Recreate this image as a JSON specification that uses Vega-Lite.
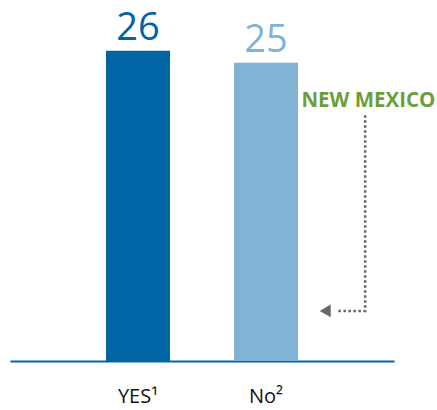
{
  "$schema": "https://vega.github.io/schema/vega-lite/v6.json",
  "width": 384,
  "height": 358,
  "padding": {"left": 10, "top": 3, "right": 43, "bottom": 49},
  "autosize": {"type": "none"},
  "background": "white",
  "config": {"view": {"stroke": null}, "font": "Open Sans"},
  "datasets": {
    "bars": [
      {"category": "YES¹", "value": 26, "base": 0, "x0": 3, "x1": 5, "mid": 4},
      {"category": "No²", "value": 25, "base": 0, "x0": 7, "x1": 9, "mid": 8}
    ],
    "arrow": [
      {"order": 1, "x": 11.1, "y": 20.6},
      {"order": 2, "x": 11.1, "y": 4.2},
      {"order": 3, "x": 10.2, "y": 4.2}
    ],
    "head": [{"x": 9.85, "y": 4.2}],
    "note": [{"x": 11.2, "y": 21.3, "label": "NEW MEXICO"}]
  },
  "encoding": {
    "x": {"type": "quantitative", "scale": {"domain": [0, 12], "nice": false}, "axis": {"labels": false, "ticks": false, "grid": false, "title": null, "domainColor": "#0065A4", "domainWidth": 2, "domainOpacity": 1}},
    "y": {"type": "quantitative", "scale": {"domain": [0, 30], "nice": false}, "axis": null}
  },
  "layer": [
    {
      "data": {"name": "bars"},
      "mark": {"type": "rect"},
      "encoding": {
        "x": {"field": "x0", "type": "quantitative"},
        "x2": {"field": "x1"},
        "y": {"field": "value", "type": "quantitative"},
        "y2": {"field": "base"},
        "color": {"field": "category", "type": "nominal", "scale": {"domain": ["YES¹", "No²"], "range": ["#0065A4", "#80B3D4"]}, "legend": null}
      }
    },
    {
      "data": {"name": "bars"},
      "mark": {"type": "text", "baseline": "alphabetic", "align": "center", "dy": -11, "fontSize": 38},
      "encoding": {
        "x": {"field": "mid", "type": "quantitative"},
        "y": {"field": "value", "type": "quantitative"},
        "text": {"field": "value", "type": "quantitative"},
        "color": {"field": "category", "type": "nominal", "legend": null}
      }
    },
    {
      "data": {"name": "bars"},
      "mark": {"type": "text", "baseline": "alphabetic", "align": "center", "dy": 42, "fontSize": 20, "color": "#111111"},
      "encoding": {
        "x": {"field": "mid", "type": "quantitative"},
        "y": {"field": "base", "type": "quantitative"},
        "text": {"field": "category", "type": "nominal"}
      }
    },
    {
      "data": {"name": "arrow"},
      "mark": {"type": "line", "color": "#666666", "strokeWidth": 2.5, "strokeDash": [2.5, 2.5]},
      "encoding": {
        "x": {"field": "x", "type": "quantitative"},
        "y": {"field": "y", "type": "quantitative"},
        "order": {"field": "order", "type": "quantitative"}
      }
    },
    {
      "data": {"name": "head"},
      "mark": {"type": "point", "shape": "triangle-left", "filled": true, "color": "#666666", "size": 160, "opacity": 1},
      "encoding": {
        "x": {"field": "x", "type": "quantitative"},
        "y": {"field": "y", "type": "quantitative"}
      }
    },
    {
      "data": {"name": "note"},
      "mark": {"type": "text", "baseline": "alphabetic", "align": "center", "fontSize": 20.5, "fontWeight": "bold", "color": "#6C9E3B"},
      "encoding": {
        "x": {"field": "x", "type": "quantitative"},
        "y": {"field": "y", "type": "quantitative"},
        "text": {"field": "label", "type": "nominal"}
      }
    }
  ]
}
